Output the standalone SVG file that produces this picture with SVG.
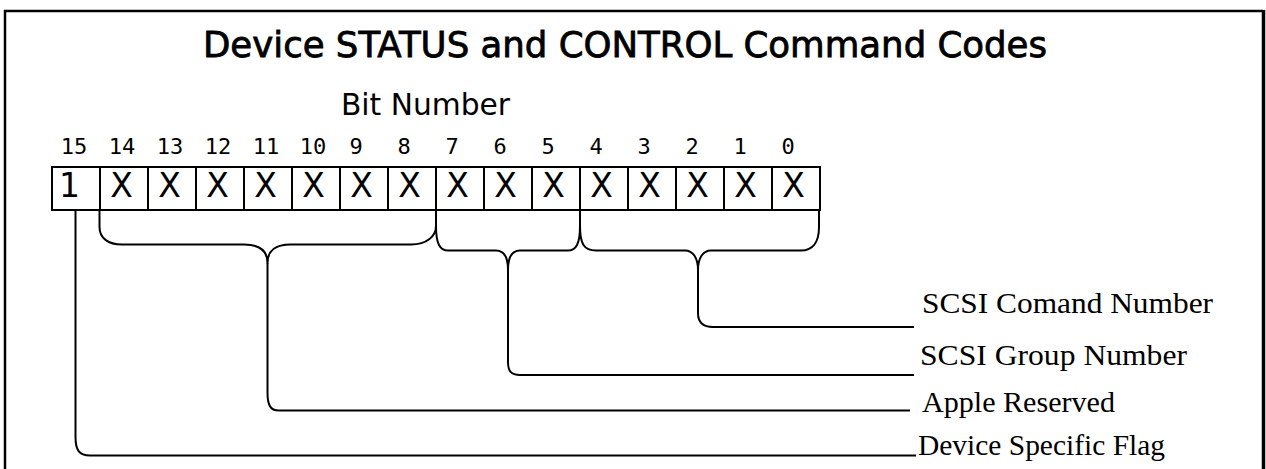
<svg xmlns="http://www.w3.org/2000/svg" width="1266" height="469" viewBox="0 0 1266 469">
<style>
.frame{fill:none;stroke:#000;stroke-width:2.5}
.cell{fill:#fff;stroke:#000;stroke-width:2}
.conn{fill:none;stroke:#000;stroke-width:2;stroke-linejoin:round}
.title{font-family:"DejaVu Sans",sans-serif;font-size:35px;fill:#000;stroke:#000;stroke-width:0.8}
.sub{font-family:"DejaVu Sans",sans-serif;font-size:30px;fill:#000}
.num{font-family:"DejaVu Sans Mono",monospace;font-size:22px;fill:#000;text-anchor:middle}
.bit{font-family:"DejaVu Sans",sans-serif;font-size:33px;fill:#000;text-anchor:middle}
.lab{font-family:"Liberation Serif","Times New Roman",serif;font-size:30px;fill:#000}
</style>
<rect width="1266" height="469" fill="#fff"/>
<path class="frame" d="M5 480 V11 H1263"/>
<line x1="1263.5" y1="10" x2="1263.5" y2="480" stroke="#000" stroke-width="3.5"/>
<g id="title">
<text class="title" x="203" y="57" textLength="844" lengthAdjust="spacingAndGlyphs">Device STATUS and CONTROL Command Codes</text>
<text class="sub" x="341" y="115" textLength="169" lengthAdjust="spacingAndGlyphs">Bit Number</text>
</g>
<g id="bit-numbers">
<text class="num" x="74" y="154">15</text>
<text class="num" x="122" y="154">14</text>
<text class="num" x="170" y="154">13</text>
<text class="num" x="218" y="154">12</text>
<text class="num" x="266" y="154">11</text>
<text class="num" x="313" y="154">10</text>
<text class="num" x="356" y="154">9</text>
<text class="num" x="404" y="154">8</text>
<text class="num" x="452" y="154">7</text>
<text class="num" x="500" y="154">6</text>
<text class="num" x="548" y="154">5</text>
<text class="num" x="596" y="154">4</text>
<text class="num" x="644" y="154">3</text>
<text class="num" x="692" y="154">2</text>
<text class="num" x="740" y="154">1</text>
<text class="num" x="788" y="154">0</text>
</g>
<g id="register">
<rect class="cell" x="52" y="167" width="768" height="43"/>
<path class="conn" d="M100 167V210M148 167V210M196 167V210M244 167V210M292 167V210M340 167V210M388 167V210M436 167V210M484 167V210M532 167V210M580 167V210M628 167V210M676 167V210M724 167V210M772 167V210"/>
<text x="59" y="197" font-family="DejaVu Sans, sans-serif" font-size="33">1</text>
<text class="bit" x="121.5" y="197">X</text>
<text class="bit" x="169.5" y="197">X</text>
<text class="bit" x="217.5" y="197">X</text>
<text class="bit" x="265.5" y="197">X</text>
<text class="bit" x="313.5" y="197">X</text>
<text class="bit" x="361.5" y="197">X</text>
<text class="bit" x="409.5" y="197">X</text>
<text class="bit" x="457.5" y="197">X</text>
<text class="bit" x="505.5" y="197">X</text>
<text class="bit" x="553.5" y="197">X</text>
<text class="bit" x="601.5" y="197">X</text>
<text class="bit" x="649.5" y="197">X</text>
<text class="bit" x="697.5" y="197">X</text>
<text class="bit" x="745.5" y="197">X</text>
<text class="bit" x="793.5" y="197">X</text>
</g>
<g id="connectors">
<path class="conn" d="M75.5 210 V437 C75.5 450 79 455.5 90 455.5 H916"/>
<path class="conn" d="M99.5 210 V227 C99.5 238 108 244.5 122 244.5 H244 C258 244.5 267.5 250 267.5 263 C267.5 250 277 244.5 290 244.5 H411 C427 244.5 436 236 436 226 V210"/>
<path class="conn" d="M267.5 263 V392 C267.5 405 270 410.5 279 410.5 H910"/>
<path class="conn" d="M436 226 C436 244 440 250.5 448 250.5 H496 C504 250.5 508 258 508 270 C508 258 512 250.5 520 250.5 H568 C576 250.5 580 244 580 226 V210"/>
<path class="conn" d="M508 270 V362 C508 371 511 375 520 375 H914"/>
<path class="conn" d="M580 226 C580 244 584 250.5 596 250.5 H685 C693 250.5 698 258 698 270 C698 258 703 250.5 711 250.5 H801 C812 250.5 819 243 819 227 V210"/>
<path class="conn" d="M698 270 V313 C698 322 702 327 713 327 H914"/>
</g>
<g id="label-command"><text class="lab" x="922" y="313" textLength="291" lengthAdjust="spacingAndGlyphs">SCSI Comand Number</text></g>
<g id="label-group"><text class="lab" x="920" y="365" textLength="267" lengthAdjust="spacingAndGlyphs">SCSI Group Number</text></g>
<g id="label-apple"><text class="lab" x="922" y="412" textLength="193" lengthAdjust="spacingAndGlyphs">Apple Reserved</text></g>
<g id="label-device"><text class="lab" x="918" y="455" textLength="247" lengthAdjust="spacingAndGlyphs">Device Specific Flag</text></g>
</svg>
